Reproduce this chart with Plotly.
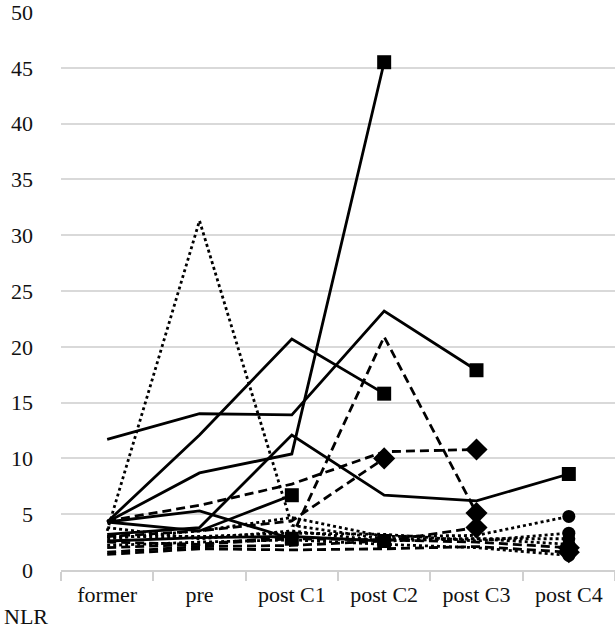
import plotly.graph_objects as go

categories = ["former", "pre", "post C1", "post C2", "post C3", "post C4"]

# solid-line patients (end marker: square)
solid_1 = [11.7, 14.0, 13.9, 23.2, 17.9, None]
solid_2 = [4.3, 12.1, 20.7, 15.8, None, None]
solid_3 = [4.3, 8.7, 10.4, 45.5, None, None]
solid_4 = [3.2, 3.8, 12.1, 6.7, 6.2, 8.6]
solid_5 = [4.3, 3.5, 6.7, None, None, None]
solid_6 = [4.3, 5.3, 2.8, None, None, None]
solid_7 = [2.6, 2.9, 3.0, 2.6, None, None]

# dashed-line patients (end marker: diamond)
dashed_1 = [2.0, 2.3, 3.0, 20.9, 5.1, None]
dashed_2 = [4.4, 5.8, 7.7, 10.6, 10.8, None]
dashed_3 = [3.0, 3.5, 4.4, 10.0, None, None]
dashed_4 = [1.6, 2.1, 2.2, 2.6, 3.8, None]
dashed_5 = [1.4, 1.9, 1.8, 1.9, 2.1, 1.6]
dashed_6 = [2.5, 2.3, 2.8, 2.7, 2.5, 2.0]

# dotted-line patients (end marker: circle)
dotted_1 = [3.5, 31.3, 4.0, 2.8, 2.8, 2.3]
dotted_2 = [2.8, 3.5, 4.7, 3.0, 3.1, 4.8]
dotted_3 = [3.0, 3.0, 3.3, 3.2, 2.6, 3.3]
dotted_4 = [2.2, 2.5, 2.7, 2.3, 2.0, 1.3]
dotted_5 = [3.8, 2.8, 3.5, 2.6, 2.8, 2.8]

y_ticks = [0, 5, 10, 15, 20, 25, 30, 35, 40, 45, 50]

groups = [
    ([solid_1, solid_2, solid_3, solid_4, solid_5, solid_6, solid_7], "solid", "square", 14),
    ([dashed_1, dashed_2, dashed_3, dashed_4, dashed_5, dashed_6], "9px,5px", "diamond", 17),
    ([dotted_1, dotted_2, dotted_3, dotted_4, dotted_5], "dot", "circle", 13),
]

fig = go.Figure()
for series_list, dash, symbol, msize in groups:
    for vals in series_list:
        last = max(i for i, v in enumerate(vals) if v is not None)
        sizes = [msize if i == last else 0 for i in range(len(vals))]
        fig.add_trace(go.Scatter(
            x=categories, y=vals, mode="lines+markers",
            line=dict(color="black", width=2.8, dash=dash),
            marker=dict(symbol=symbol, size=sizes, color="#000000", opacity=1,
                        line=dict(width=0, color="#000000")),
            opacity=1, connectgaps=False, showlegend=False, hoverinfo="skip",
        ))

font = dict(family="Liberation Serif, Times New Roman, serif", size=22, color="#111")
fig.update_layout(
    width=615, height=631,
    margin=dict(l=61, r=0, t=8, b=61),
    paper_bgcolor="white", plot_bgcolor="white",
    font=font, showlegend=False,
    xaxis=dict(type="category", range=[-0.5, 5.5], showgrid=False,
               showline=True, linecolor="#d0d0d0", linewidth=2,
               ticks="outside", tickson="boundaries", ticklen=9, tickwidth=2,
               tickcolor="#d0d0d0", tickfont=font, ticklabelstandoff=4),
    yaxis=dict(range=[0, 50], tickvals=y_ticks, showgrid=True, gridcolor="#d9d9d9",
               gridwidth=2, zeroline=False, showline=False, tickfont=font,
               ticklabelstandoff=27, ticklabeloverflow="allow"),
    annotations=[dict(text="NLR", xref="paper", yref="paper", x=-59/554, y=-47/562,
                      xanchor="left", yanchor="middle", showarrow=False, font=font)],
)
fig.write_html("out.html", config={"displayModeBar": False},
               post_script="document.body.style.margin='0';")
